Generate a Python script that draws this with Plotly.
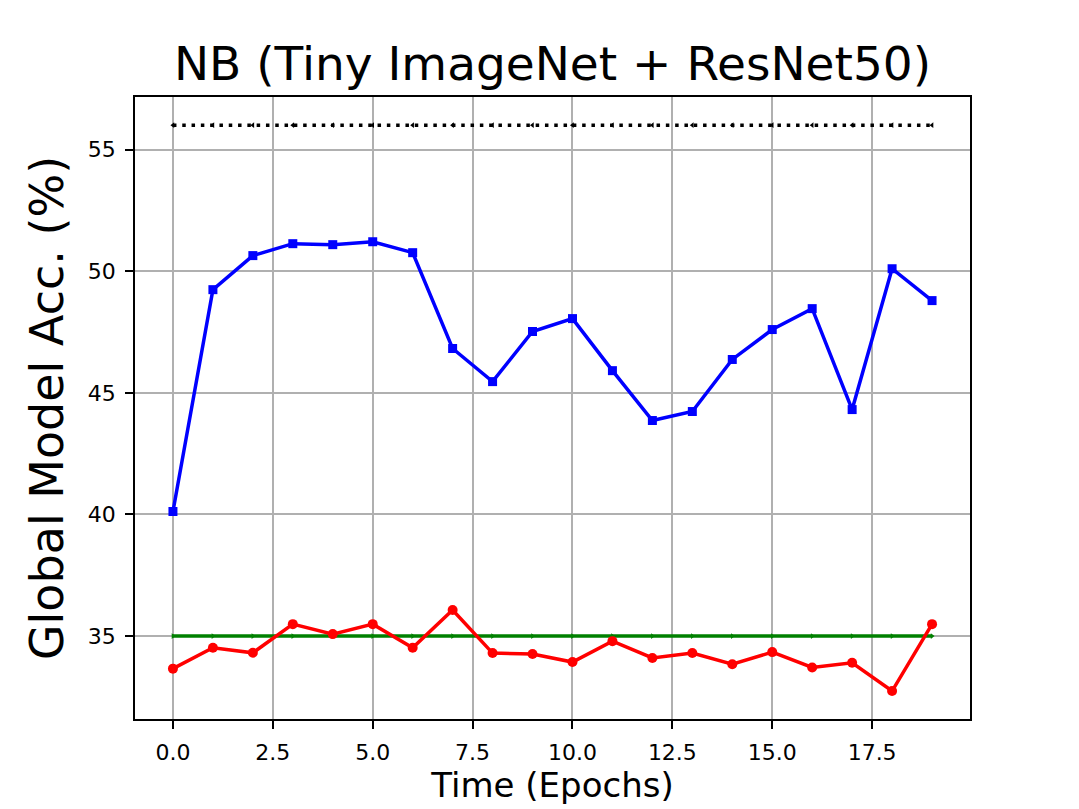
import plotly.graph_objects as go

epochs = list(range(20))

blue_acc = [40.12, 49.24, 50.64, 51.13, 51.09, 51.21, 50.76, 46.82, 45.46, 47.52,
            48.05, 45.91, 43.86, 44.23, 46.37, 47.60, 48.46, 44.31, 50.10, 48.79]
red_acc = [33.66, 34.52, 34.31, 35.49, 35.08, 35.49, 34.52, 36.07, 34.30, 34.26,
           33.93, 34.79, 34.10, 34.30, 33.84, 34.34, 33.71, 33.90, 32.74, 35.49]
upper_ref = [56.0] * 20
lower_ref = [35.0] * 20

font = "DejaVu Sans, Liberation Sans, sans-serif"

fig = go.Figure()

fig.add_trace(go.Scatter(x=epochs, y=upper_ref, mode="lines+markers",
                         line=dict(color="black", width=3.5, dash="3.5px,5.8px"),
                         marker=dict(symbol="triangle-left", size=5, color="black")))
fig.add_trace(go.Scatter(x=epochs, y=lower_ref, mode="lines+markers",
                         line=dict(color="green", width=3.5),
                         marker=dict(symbol="triangle-right", size=5, color="green")))
fig.add_trace(go.Scatter(x=epochs, y=blue_acc, mode="lines+markers",
                         line=dict(color="blue", width=3.5),
                         marker=dict(symbol="square", size=9, color="blue")))
fig.add_trace(go.Scatter(x=epochs, y=red_acc, mode="lines+markers",
                         line=dict(color="red", width=3.5),
                         marker=dict(symbol="circle", size=10, color="red")))

axis_common = dict(showline=True, linecolor="black", linewidth=1.9, mirror=True,
                   ticks="outside", ticklen=8, tickcolor="black", tickwidth=1.9,
                   showgrid=True, gridcolor="#b0b0b0", gridwidth=1.9, zeroline=False,
                   ticklabelstandoff=5,
                   tickfont=dict(family=font, size=22, color="black"))

fig.update_layout(
    width=1079, height=809,
    paper_bgcolor="white", plot_bgcolor="white",
    showlegend=False,
    margin=dict(l=127, r=117, t=89, b=98),
    title=dict(text="NB (Tiny ImageNet + ResNet50)", x=0.5, xanchor="center",
               xref="paper", y=0.931, yanchor="middle",
               font=dict(family=font, size=47, color="black")),
    xaxis=dict(range=[-0.95, 19.95], tick0=0, dtick=2.5, tickformat=".1f",
               title=dict(text="Time (Epochs)", standoff=6,
                          font=dict(family=font, size=34, color="black")),
               **axis_common),
    yaxis=dict(range=[31.59, 57.16], tick0=35, dtick=5,
               title=dict(text="Global Model Acc. (%)", standoff=10,
                          font=dict(family=font, size=46, color="black")),
               **axis_common),
)

fig.write_html("out.html")
